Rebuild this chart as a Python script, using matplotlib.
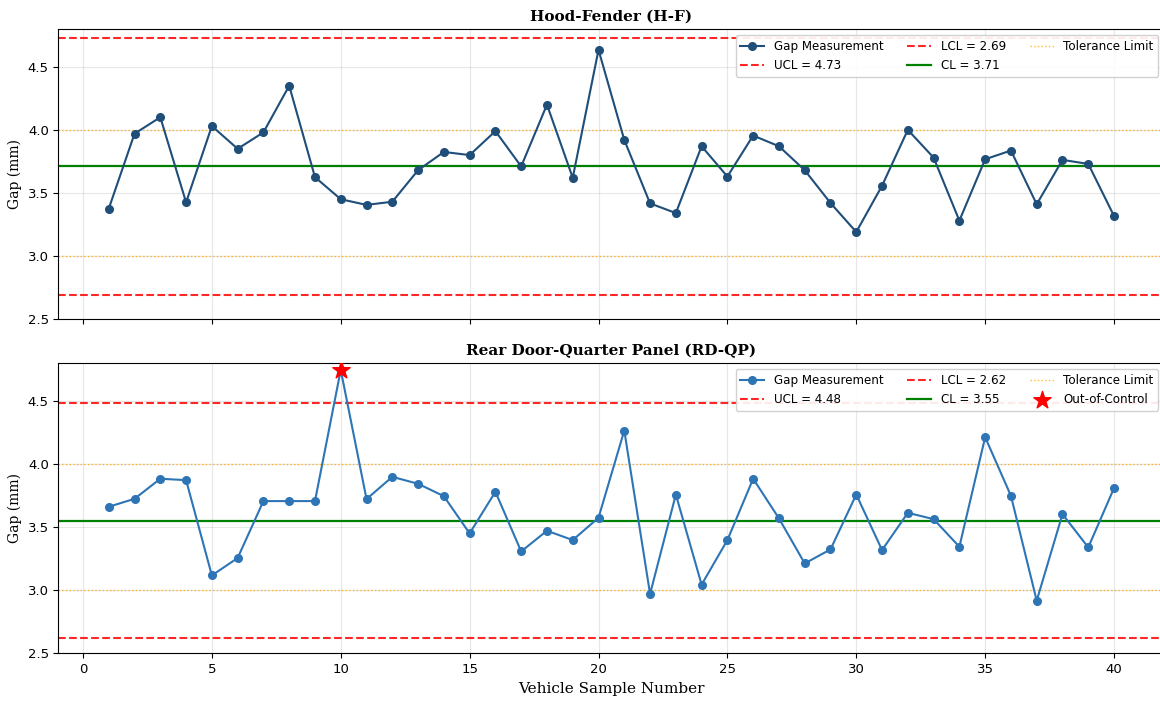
import matplotlib
matplotlib.use("Agg")
import matplotlib.pyplot as plt
import numpy as np

samples = list(range(1, 41))

hf_gap = [3.375, 3.97, 4.10, 3.425, 4.03, 3.85, 3.98, 4.35, 3.625, 3.45,
          3.405, 3.43, 3.68, 3.825, 3.80, 3.99, 3.71, 4.20, 3.62, 4.635,
          3.92, 3.417, 3.34, 3.87, 3.63, 3.955, 3.87, 3.68, 3.42, 3.19,
          3.557, 4.00, 3.78, 3.28, 3.767, 3.836, 3.41, 3.762, 3.73, 3.317]

rdqp_gap = [3.661, 3.724, 3.883, 3.872, 3.117, 3.255, 3.706, 3.706, 3.706, 4.745,
            3.722, 3.898, 3.843, 3.745, 3.45, 3.78, 3.307, 3.471, 3.397, 3.574,
            4.265, 2.97, 3.758, 3.044, 3.397, 3.883, 3.569, 3.212, 3.323, 3.758,
            3.318, 3.613, 3.563, 3.344, 4.212, 3.748, 2.917, 3.603, 3.339, 3.809]

hf_limits = {"UCL": 4.73, "CL": 3.71, "LCL": 2.69}
rdqp_limits = {"UCL": 4.48, "CL": 3.55, "LCL": 2.62}
tolerance = [3.0, 4.0]

titles = ["Hood-Fender (H-F)", "Rear Door-Quarter Panel (RD-QP)"]
line_colors = ["#1f4e79", "#2e75b6"]

fig = plt.figure(figsize=(11.6, 7.02), dpi=100)
W, H = 1160, 702
left = 58.5 / W
width = (1164.3 - 58.5) / W
ax1 = fig.add_axes([left, 1 - 319 / H, width, (319 - 29) / H])
ax2 = fig.add_axes([left, 1 - 653.3 / H, width, (653.3 - 363) / H], sharex=ax1)

for ax, gap, lim, title, col, show_x in [
    (ax1, hf_gap, hf_limits, titles[0], line_colors[0], False),
    (ax2, rdqp_gap, rdqp_limits, titles[1], line_colors[1], True),
]:
    ax.plot(samples, gap, marker='o', color=col, linewidth=1.5, markersize=5.5,
            label='Gap Measurement', zorder=3)
    ax.axhline(lim["UCL"], color='red', linestyle='--', linewidth=1.5, alpha=0.85,
               label=f'UCL = {lim["UCL"]:.2f}')
    ax.axhline(lim["LCL"], color='red', linestyle='--', linewidth=1.5, alpha=0.85,
               label=f'LCL = {lim["LCL"]:.2f}')
    ax.axhline(lim["CL"], color='green', linestyle='-', linewidth=1.6,
               label=f'CL = {lim["CL"]:.2f}')
    ax.axhline(tolerance[0], color='orange', linestyle=':', linewidth=1.0, alpha=0.8,
               label='Tolerance Limit')
    ax.axhline(tolerance[1], color='orange', linestyle=':', linewidth=1.0, alpha=0.8)
    ooc_x = [s for s, g in zip(samples, gap) if g > lim["UCL"] or g < lim["LCL"]]
    ooc_y = [g for g in gap if g > lim["UCL"] or g < lim["LCL"]]
    if ooc_x:
        ax.scatter(ooc_x, ooc_y, marker='*', color='red', s=170, zorder=5,
                   label='Out-of-Control')
    ax.set_ylim(2.5, 4.8)
    ax.set_xlim(-0.95, 41.95)
    ax.set_yticks([2.5, 3.0, 3.5, 4.0, 4.5])
    ax.grid(True, alpha=0.3)
    ax.set_title(title, fontsize=11, fontweight='bold', family='DejaVu Serif', pad=6)
    ax.set_ylabel('Gap (mm)', fontsize=10, family='DejaVu Serif')
    ax.tick_params(labelsize=9.5)
    ax.legend(loc='upper right', ncol=3, fontsize=8.6, framealpha=0.9)
    if not show_x:
        ax.tick_params(labelbottom=False)

ax2.set_xlabel('Vehicle Sample Number', fontsize=11, family='DejaVu Serif')
ax2.set_xticks([0, 5, 10, 15, 20, 25, 30, 35, 40])

fig.savefig('out.png', dpi=100)
